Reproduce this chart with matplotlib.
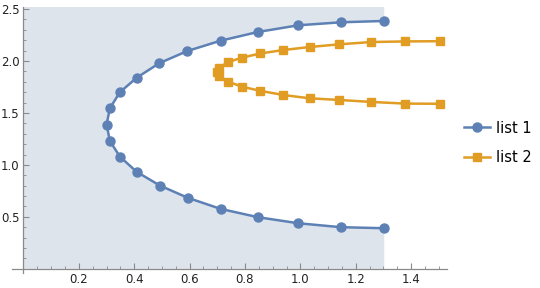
import matplotlib; matplotlib.use("Agg")

import matplotlib.pyplot as plt
from matplotlib.ticker import MultipleLocator

# list 1: sideways parabola (blue circles)
list1_x = [1.303, 1.146, 0.992, 0.847, 0.712, 0.592, 0.490, 0.409, 0.348, 0.312, 0.300,
           0.312, 0.348, 0.409, 0.493, 0.594, 0.712, 0.847, 0.992, 1.146, 1.303]
list1_y = [2.385, 2.372, 2.343, 2.279, 2.195, 2.096, 1.978, 1.839, 1.699, 1.545, 1.388,
           1.231, 1.080, 0.933, 0.801, 0.683, 0.577, 0.497, 0.439, 0.401, 0.391]

# list 2: smaller sideways parabola (orange squares)
list2_x = [1.503, 1.377, 1.255, 1.140, 1.033, 0.937, 0.855, 0.788, 0.740, 0.706, 0.700,
           0.706, 0.740, 0.788, 0.855, 0.937, 1.033, 1.140, 1.255, 1.377, 1.503]
list2_y = [2.190, 2.188, 2.182, 2.160, 2.134, 2.105, 2.072, 2.031, 1.990, 1.935, 1.895,
           1.855, 1.801, 1.753, 1.713, 1.673, 1.641, 1.625, 1.606, 1.590, 1.588]

blue = "#5e81b5"
orange = "#e19c24"
fill_color = "#dde4ec"
axis_gray = "#8a8a8a"

fig = plt.figure(figsize=(5.4, 2.88), dpi=100)
ax = fig.add_axes([0.023, 0.052, 0.805, 0.924])
x_lo, x_hi = -0.04, 1.53
y_lo, y_hi = -0.04, 2.52

# filling: everything from the y axis to the blue curve
fill_x = [0, list1_x[-1]] + list1_x[::-1] + [list1_x[0], 0]
fill_y = [0, 0] + list1_y[::-1] + [y_hi, y_hi]
ax.fill(fill_x, fill_y, color=fill_color, lw=0, zorder=1)

ax.plot(list1_x, list1_y, color=blue, lw=1.8, marker="o", ms=6.5,
        label="list 1", zorder=3, clip_on=False)
ax.plot(list2_x, list2_y, color=orange, lw=1.8, marker="s", ms=6,
        label="list 2", zorder=3, clip_on=False)

ax.set_xlim(x_lo, x_hi)
ax.set_ylim(y_lo, y_hi)

for side in ["top", "right"]:
    ax.spines[side].set_visible(False)
for side in ["left", "bottom"]:
    ax.spines[side].set_position(("data", 0))
    ax.spines[side].set_color(axis_gray)
    ax.spines[side].set_linewidth(0.9)
ax.spines["left"].set_bounds(y_lo, y_hi)
ax.spines["bottom"].set_bounds(x_lo, x_hi)

ax.set_xticks([0.2, 0.4, 0.6, 0.8, 1.0, 1.2, 1.4])
ax.set_xticklabels(["0.2", "0.4", "0.6", "0.8", "1.0", "1.2", "1.4"])
ax.set_yticks([0.5, 1.0, 1.5, 2.0, 2.5])
ax.set_yticklabels(["0.5", "1.0", "1.5", "2.0", "2.5"])
ax.xaxis.set_minor_locator(MultipleLocator(0.05))
ax.yaxis.set_minor_locator(MultipleLocator(0.1))
ax.tick_params(which="major", direction="in", length=4, width=0.8, color=axis_gray,
               labelsize=8.5, labelcolor="#222222", pad=3)
ax.tick_params(which="minor", direction="in", length=2.2, width=0.6, color=axis_gray)
ax.patch.set_visible(False)

fig.legend(loc="upper left", bbox_to_anchor=(0.835, 0.627), frameon=False,
           fontsize=10.5, handlelength=1.8, labelspacing=1.0, handletextpad=0.4)

fig.savefig("out.png", dpi=100)
